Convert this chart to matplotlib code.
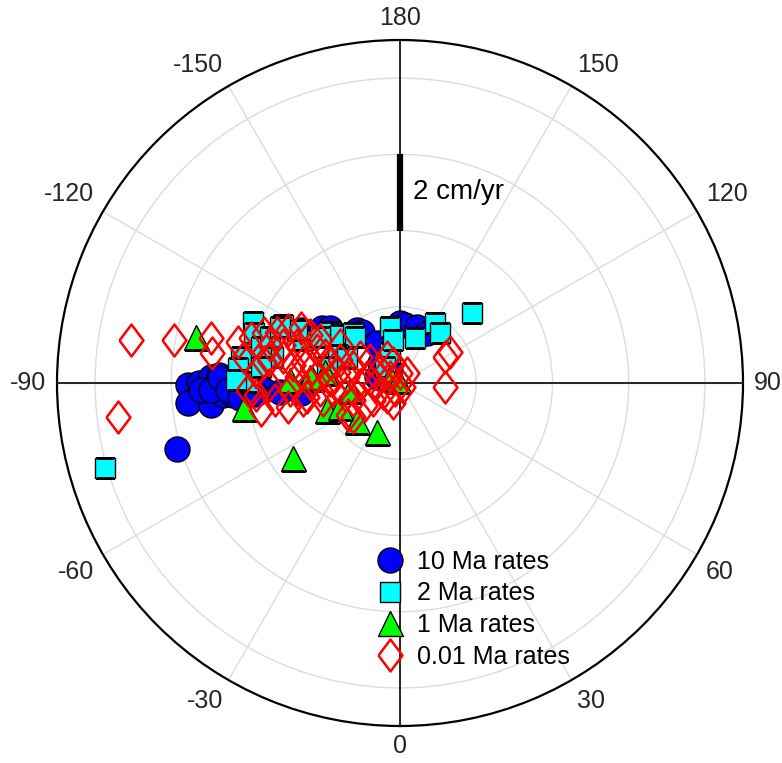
import numpy as np
import matplotlib
matplotlib.use("Agg")
import matplotlib.pyplot as plt

plt.rcParams['font.family'] = ['Liberation Sans', 'DejaVu Sans']

# velocity components in the plot frame (cm/yr): x to the right (90), y up (180)
x10 = [-5.57, -5.28, -4.97, -4.76, -5.57, -4.97, -4.65, -4.39, -5.23, -4.97,
       -5.86, -4.71, -4.52, -3.58, -2.61, -2.04, -1.12, -0.99, -0.60, 0.00,
       0.13, 0.44, 0.71, -0.60, -0.26, -0.52, -4.05, -3.14, -2.61, -1.83,
       -4.20, -3.80]
y10 = [-0.05, 0.00, 0.16, 0.21, -0.52, -0.58, -0.31, -0.31, -0.18, -0.18,
       -1.73, 0.13, -0.18, -0.18, -0.26, 1.44, 1.39, 1.33, 1.05, 1.57,
       1.52, 1.46, 1.31, 0.16, 0.34, 0.52, -0.24, -0.24, 1.39, 1.44,
       -0.40, -0.30]

x2 = [-7.74, 1.88, 0.92, 0.39, 1.05, -0.26, -3.87, -3.06, -1.83, -1.57,
      -1.23, -4.18, -4.26, -4.00, -3.58, -3.32, -2.54, -2.09, -2.69, -0.26,
      -0.39, -3.66, -4.31, -3.84, -3.66, -3.40, -3.14, -1.18, -0.18, -1.62,
      -1.39, -1.91]
y2 = [-2.22, 1.83, 1.57, 1.18, 1.31, 1.46, 1.59, 1.52, 1.33, 1.25,
      1.31, 0.68, 0.39, 0.03, 1.12, 0.68, 1.12, 1.20, 1.39, 0.78,
      0.42, 0.42, 0.08, 1.31, 0.94, 1.20, 1.46, 1.20, 1.12, 0.73,
      0.65, 0.42]

x1 = [-5.36, -2.82, -0.60, -1.12, -4.10, -1.91, -1.57, -2.30, -1.96, -2.35,
      -0.26, -0.05, -2.88, -1.31]
y1 = [1.20, -1.96, -1.28, -0.99, -0.65, -0.71, -0.63, 0.13, 0.29, 0.16,
      0.16, 0.08, 0.08, -0.18]

x001 = [-7.06, -5.93, -4.97, -4.92, -7.40, 1.18, 1.31, 1.18, -4.26, -3.92,
        -4.00, -3.66, -3.58, -3.22, -3.06, -2.61, -2.54, -2.88, -2.43, -3.58,
        -2.95, -2.69, -2.17, -2.35, -1.75, -1.83, -1.39, -1.23, -1.05, -0.86,
        -1.23, -0.71, -0.18, -0.44, 0.00, 0.08, -1.23, -2.01, -2.54, -2.95,
        -0.34, 0.18, -0.34, -0.18, -2.09, -1.57, -3.40, -1.83, -0.78, -0.26,
        -4.10, -3.79, -3.45, -3.27, -3.06, -2.82, -2.30, -2.09, -1.62, -1.44,
        -1.05, -0.92, -0.65, -0.52, -0.13, -2.69, -2.35, -1.96, -1.57, -3.79,
        -3.45, -1.36]
y001 = [1.12, 1.12, 1.18, 0.78, -0.89, 0.68, 0.81, -0.10, 1.07, 1.18,
        -0.18, -0.71, 0.55, 1.31, 0.68, 1.44, 0.55, -0.18, -0.37, 1.31,
        1.39, 0.16, 0.86, 0.00, -0.18, 0.52, 0.16, -0.44, 0.68, 0.16,
        -0.89, -0.44, 0.52, -0.26, 0.26, -0.10, 0.42, -0.44, -0.44, -0.63,
        0.68, 0.26, -0.37, -0.52, 1.12, 0.99, 0.99, 0.08, 0.60, 0.16,
        0.68, 0.29, -0.05, -0.44, 0.99, 0.47, 0.39, -0.18, 0.29, -0.31,
        -0.05, -0.58, -0.05, 0.34, -0.18, 0.99, 1.25, 0.73, 0.60, -0.31,
        0.60, -0.84]

angle_ticks = [0, 30, 60, 90, 120, 150, 180, -150, -120, -90, -60, -30]
rings = [2, 4, 6, 8]
rmax = 9
scale_bar = (4, 6)


def to_polar(x, y):
    x = np.asarray(x)
    y = np.asarray(y)
    return np.arctan2(x, -y), np.hypot(x, y)


fig = plt.figure(figsize=(7.82, 7.63), dpi=100)
ax = fig.add_axes([57 / 782, 37 / 763, 686 / 782, 686 / 763], projection='polar')
ax.set_theta_zero_location('S')
ax.set_theta_direction(1)
ax.set_ylim(0, rmax)

ax.set_thetagrids(np.mod(angle_ticks, 360), [''] * len(angle_ticks))
ax.set_rgrids(rings, [''] * len(rings))
ax.grid(color='#dcdcdc', lw=1.0)
ax.spines['polar'].set_linewidth(1.6)
ax.spines['polar'].set_color('black')

# angle labels, anchored by the corner nearest the circle
for a in angle_ticks:
    t = np.deg2rad(a)
    ux, uy = np.sin(t), -np.cos(t)
    pad = 7.5 if uy > -0.9 else 6
    ha = 'center' if abs(ux) < 0.1 else ('left' if ux > 0 else 'right')
    va = 'center' if abs(uy) < 0.1 else ('bottom' if uy > 0 else 'top')
    ax.annotate(str(a), xy=(t, rmax), xytext=(pad * ux, pad * uy),
                textcoords='offset points', ha=ha, va=va, fontsize=18,
                color='#262626', annotation_clip=False)

# dark axis lines
for a in [0, 90, 180, 270]:
    t = np.deg2rad(a)
    ax.plot([t, t], [0, rmax], color='#262626', lw=1.4, zorder=2.6)

# scale bar
ax.plot([np.pi, np.pi], list(scale_bar), color='black', lw=4.5,
        solid_capstyle='butt', zorder=3)
ax.annotate('2 cm/yr', xy=(np.pi, np.mean(scale_bar)), xytext=(9, 0),
            textcoords='offset points', ha='left', va='center', fontsize=20)

t, r = to_polar(x10, y10)
ax.plot(t, r, 'o', ms=18, mfc='#0000ff', mec='black', mew=1.0,
        label='10 Ma rates', zorder=4)
t, r = to_polar(x2, y2)
ax.plot(t, r, 's', ms=14.4, mfc='#00ffff', mec='black', mew=1.0,
        label='2 Ma rates', zorder=5)
t, r = to_polar(x1, y1)
ax.plot(t, r, '^', ms=18, mfc='#00ff00', mec='black', mew=1.0,
        label='1 Ma rates', zorder=6)
diamond = [(-0.75, 0), (0, 1), (0.75, 0), (0, -1), (-0.75, 0)]
t, r = to_polar(x001, y001)
ax.plot(t, r, ls='none', marker=diamond, ms=23, mfc='none', mec='#ff0000',
        mew=1.8, label='0.01 Ma rates', zorder=7)

leg = ax.legend(loc='upper left', bbox_to_anchor=(377 / 782, 1 - 550 / 763),
                bbox_transform=fig.transFigure, frameon=False, fontsize=18,
                handlelength=1.0, handletextpad=0.6, labelspacing=0.3,
                borderpad=0, borderaxespad=0, markerscale=1.0)

fig.savefig('out.png', dpi=100)
